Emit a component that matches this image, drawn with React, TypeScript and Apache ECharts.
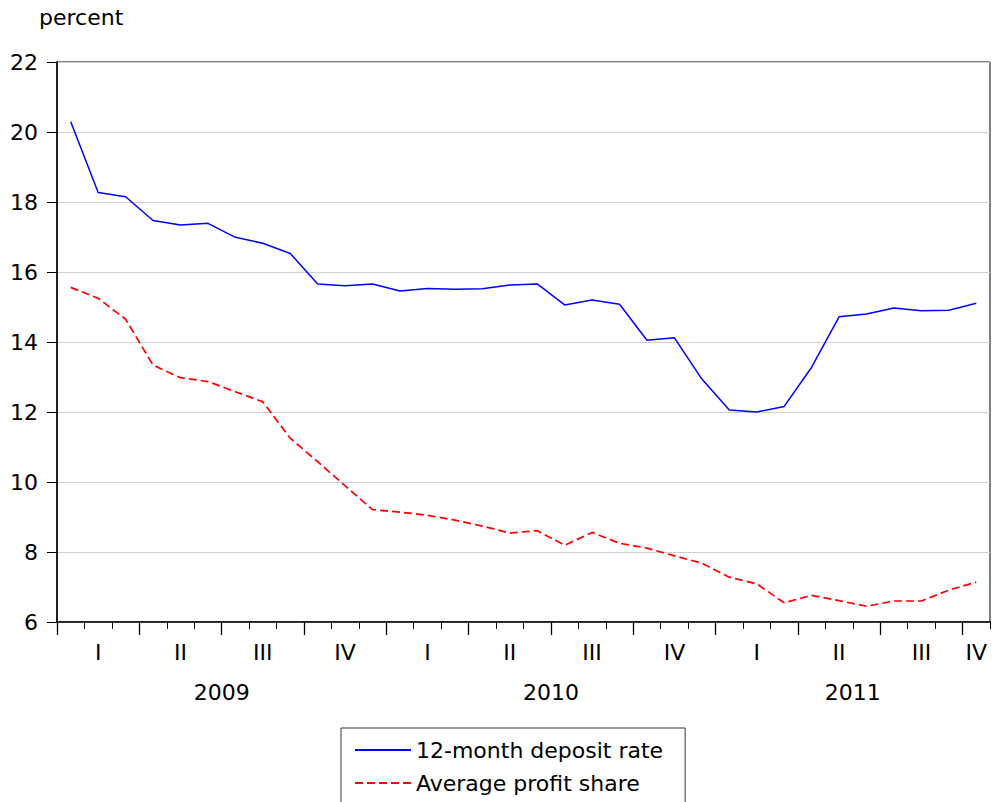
import React, { useEffect, useRef } from 'react';
import * as echarts from 'echarts';

const months = [
  '2009-01', '2009-02', '2009-03', '2009-04', '2009-05', '2009-06',
  '2009-07', '2009-08', '2009-09', '2009-10', '2009-11', '2009-12',
  '2010-01', '2010-02', '2010-03', '2010-04', '2010-05', '2010-06',
  '2010-07', '2010-08', '2010-09', '2010-10', '2010-11', '2010-12',
  '2011-01', '2011-02', '2011-03', '2011-04', '2011-05', '2011-06',
  '2011-07', '2011-08', '2011-09', '2011-10',
];

const depositRate = [
  20.29, 18.27, 18.15, 17.47, 17.34, 17.39, 16.99, 16.82, 16.53, 15.66, 15.61, 15.66,
  15.46, 15.53, 15.51, 15.52, 15.63, 15.66, 15.06, 15.2, 15.08, 14.05, 14.12, 12.94,
  12.06, 12.0, 12.16, 13.28, 14.72, 14.8, 14.97, 14.89, 14.91, 15.11,
];

const profitShare = [
  15.56, 15.25, 14.65, 13.34, 12.98, 12.87, 12.58, 12.29, 11.25, 10.58, 9.89, 9.21,
  9.14, 9.05, 8.91, 8.74, 8.54, 8.61, 8.19, 8.56, 8.25, 8.11, 7.89, 7.68,
  7.28, 7.09, 6.55, 6.76, 6.61, 6.45, 6.6, 6.6, 6.91, 7.14,
];

const quarterNames = ['I', 'II', 'III', 'IV'];
const seriesNames = ['12-month deposit rate', 'Average profit share'];
const yMin = 6;
const yMax = 22;
const yStep = 2;

function groupPositions(keyOf: (m: string) => string, labelOf: (m: string) => string) {
  const out: Record<string, string> = {};
  let start = 0;
  for (let i = 1; i <= months.length; i++) {
    if (i === months.length || keyOf(months[i]) !== keyOf(months[start])) {
      const pos = start + (i - start) / 2;
      out[pos.toFixed(1)] = labelOf(months[start]);
      start = i;
    }
  }
  return out;
}

const quarterOf = (m: string) => Math.floor((parseInt(m.slice(5), 10) - 1) / 3);
const quarterLabels = groupPositions(
  (m) => m.slice(0, 4) + 'Q' + quarterOf(m),
  (m) => quarterNames[quarterOf(m)]
);
const yearLabels = groupPositions(
  (m) => m.slice(0, 4),
  (m) => m.slice(0, 4)
);

const FONT = 'DejaVu Sans';

export default function App() {
  const ref = useRef<HTMLDivElement>(null);
  useEffect(() => {
    if (!ref.current) return;
    const chart = echarts.init(ref.current, null, { renderer: 'svg' });
    const n = months.length;
    const left = 57;
    const right = 7;
    const plotW = 997 - left - right;
    const monthW = plotW / n;
    const labelAxis = (margin: number, labels: Record<string, string>) => ({
      gridIndex: 0,
      type: 'value',
      position: 'bottom',
      min: 0,
      max: n,
      interval: 0.5,
      axisLine: { show: false },
      axisTick: { show: false },
      splitLine: { show: false },
      axisLabel: {
        show: true,
        margin,
        fontSize: 22,
        fontFamily: FONT,
        color: '#000',
        showMinLabel: true,
        showMaxLabel: true,
        formatter: (v: number) => labels[v.toFixed(1)] || '',
      },
    });
    chart.setOption({
      animation: false,
      backgroundColor: '#ffffff',
      textStyle: { fontFamily: FONT, color: '#000' },
      title: {
        text: 'percent',
        left: 39,
        top: 6,
        padding: 0,
        textStyle: { fontFamily: FONT, fontSize: 22, fontWeight: 'normal', color: '#000' },
      },
      grid: [
        {
          left, right, top: 62, bottom: 180, show: true, borderColor: '#000', borderWidth: 1,
          backgroundColor: 'transparent', containLabel: false, outerBoundsMode: 'none',
        },
        {
          left, right: 997 - left - monthW * (n - 1), top: 62, bottom: 180, show: false,
          containLabel: false, outerBoundsMode: 'none',
        },
      ],
      legend: {
        data: seriesNames,
        orient: 'vertical',
        left: 341,
        top: 728,
        height: 120,
        padding: [11, 22, 11, 13],
        itemGap: 11,
        itemWidth: 56,
        itemHeight: 14,
        backgroundColor: '#fff',
        borderColor: '#333',
        borderWidth: 1,
        borderRadius: 0,
        itemStyle: { opacity: 0, color: 'rgba(0,0,0,0)', borderColor: 'rgba(0,0,0,0)', borderWidth: 0 },
        textStyle: { fontFamily: FONT, fontSize: 22, color: '#000' },
      },
      xAxis: [
        {
          gridIndex: 0,
          type: 'category',
          position: 'bottom',
          data: months,
          boundaryGap: true,
          axisLine: { show: true, lineStyle: { color: '#000', width: 1.5 } },
          axisTick: { show: true, interval: 0, length: 7, lineStyle: { color: '#000', width: 1 } },
          axisLabel: { show: false },
          splitLine: { show: false },
        },
        {
          gridIndex: 1,
          type: 'value',
          position: 'bottom',
          min: 0,
          max: n - 1,
          interval: 3,
          axisLine: { show: false },
          axisTick: { show: true, length: 13, lineStyle: { color: '#000', width: 1.3 } },
          axisLabel: { show: false },
          splitLine: { show: false },
        },
        labelAxis(19, quarterLabels),
        labelAxis(59, yearLabels),
      ],
      yAxis: [
        {
          gridIndex: 0,
          type: 'value',
          min: yMin,
          max: yMax,
          interval: yStep,
          axisLine: { show: true, lineStyle: { color: '#000', width: 1.5 } },
          axisTick: { show: true, length: 10, lineStyle: { color: '#000', width: 1 } },
          axisLabel: { margin: 19, fontSize: 22, fontFamily: FONT, color: '#000' },
          splitLine: { show: true, lineStyle: { color: '#d0d0d0', width: 1.2 } },
        },
        {
          gridIndex: 1,
          type: 'value',
          min: yMin,
          max: yMax,
          show: false,
        },
      ],
      series: [
        {
          name: seriesNames[0],
          type: 'line',
          xAxisIndex: 0,
          yAxisIndex: 0,
          data: depositRate,
          symbol: 'none',
          lineStyle: { color: '#0000ff', width: 1.5 },
          itemStyle: { color: '#0000ff' },
        },
        {
          name: seriesNames[1],
          type: 'line',
          xAxisIndex: 0,
          yAxisIndex: 0,
          data: profitShare,
          symbol: 'none',
          lineStyle: { color: '#ff0000', width: 1.7, type: [8, 4] },
          itemStyle: { color: '#ff0000' },
        },
      ],
    });
    return () => chart.dispose();
  }, []);
  return (
    <div
      ref={ref}
      style={{ position: 'absolute', left: 0, top: 0, width: 997, height: 802, background: '#fff' }}
    />
  );
}
